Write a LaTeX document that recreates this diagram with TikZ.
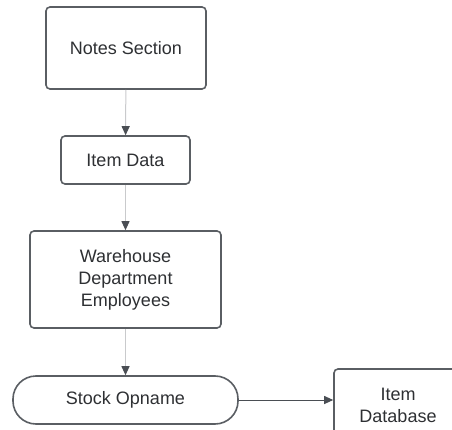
\documentclass[tikz,border=0pt]{standalone}
\usepackage{fontspec}
\setmainfont{Liberation Sans}
\usetikzlibrary{arrows.meta}
\definecolor{boxline}{HTML}{5A5E63}
\definecolor{textcol}{HTML}{2E3033}
\definecolor{linkline}{HTML}{C9CACC}
\definecolor{tipcol}{HTML}{4A4E54}
\tikzset{
  box/.style={draw=boxline, line width=1.6pt, rounded corners=4pt, fill=white,
    text=textcol, font=\fontsize{18}{22}\selectfont, align=center,
    inner sep=0pt},
  pill/.style={box, rounded corners=23pt},
  link/.style={draw=linkline, line width=1pt,
    -{Triangle[length=9pt,width=8pt,color=tipcol]}},
  darklink/.style={link, draw=tipcol}
}
\begin{document}
\begin{tikzpicture}[x=1pt,y=-1pt]
  \useasboundingbox (0,0) rectangle (452,430);
  \clip (0,0) rectangle (452,430);
  \node[box, minimum width=160pt, minimum height=82pt] (notes) at (126,48) {Notes Section};
  \node[box, minimum width=129pt, minimum height=48pt] (item) at (125.5,160) {Item Data};
  \node[box, minimum width=191pt, minimum height=97pt] (staff) at (125.5,279.5)
    {Warehouse\\Department\\Employees};
  \node[pill, minimum width=225pt, minimum height=48pt] (opname) at (125.5,400) {Stock Opname};
  \node[box, minimum width=128pt, minimum height=72pt, text width=124pt] (db) at (398,405)
    {Item\\Database};
  \draw[link] (notes) -- (item);
  \draw[link] (item) -- (staff);
  \draw[link] (staff) -- (opname);
  \draw[darklink] (opname) -- (opname -| db.west);
\end{tikzpicture}
\end{document}
